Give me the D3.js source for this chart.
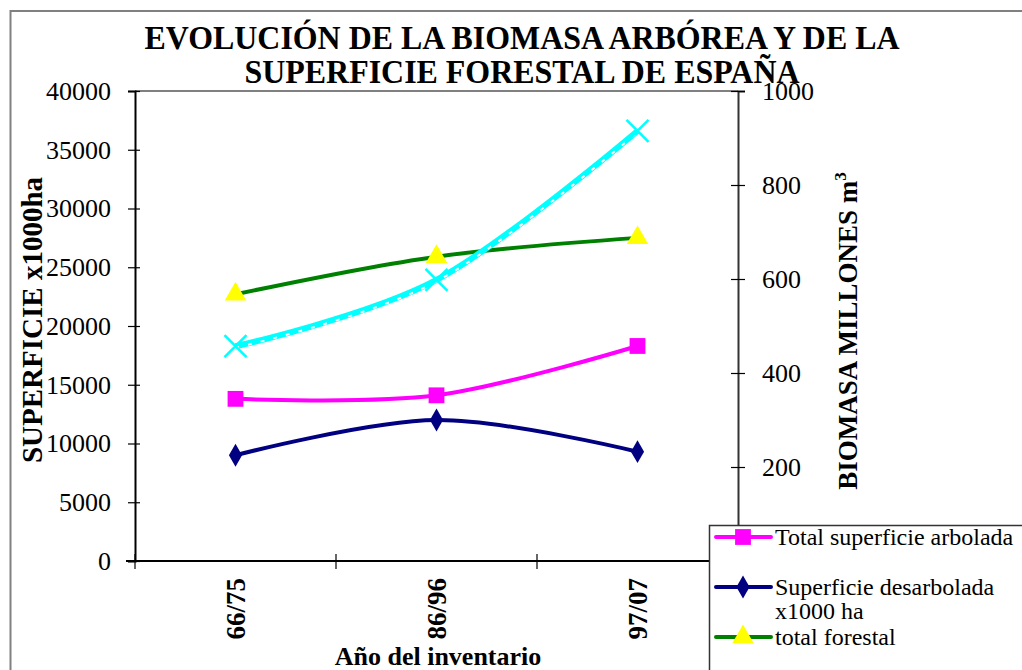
<!DOCTYPE html>
<html>
<head>
<meta charset="utf-8">
<script src="https://cdn.jsdelivr.net/npm/d3@7/dist/d3.min.js"></script>
<style>
  html, body { margin: 0; padding: 0; background: #fff; }
  svg { display: block; }
  svg text { font-family: "Liberation Serif", "Times New Roman", serif; }
</style>
</head>
<body>
<svg id="chart" width="1022" height="670"></svg>
<script>
// Inventory periods
const categories = ["66/75", "86/96", "97/07"];

// Surface series (thousand ha, left axis)
const arbolada = [13800, 14100, 18300];
const desarbolada = [9000, 12000, 9300];
const forestal = [22700, 25900, 27500];

// Tree biomass (million m³, right axis)
const biomasa = [457, 598, 915];

// Axis ticks
const leftTicks = [0, 5000, 10000, 15000, 20000, 25000, 30000, 35000, 40000];
const rightTicks = [200, 400, 600, 800, 1000];

const titleLines = ["EVOLUCIÓN DE LA BIOMASA ARBÓREA Y DE LA", "SUPERFICIE FORESTAL DE ESPAÑA"];
const titleWidths = [755, 555];

const FONT = "Liberation Serif";
const svg = d3.select("#chart");
const plot = { left: 135, right: 738, top: 91, bottom: 561 };

const x = d3.scaleBand().domain(categories).range([plot.left, plot.right]).padding(0);
const yL = d3.scaleLinear().domain([0, 40000]).range([plot.bottom, plot.top]);
const yR = d3.scaleLinear().domain([0, 1000]).range([plot.bottom, plot.top]);
const cx = c => x(c) + x.bandwidth() / 2;

// Outer chart frame
svg.append("path")
  .attr("d", "M10.5,680 V11 H1030")
  .attr("fill", "none").attr("stroke", "#808080").attr("stroke-width", 2);

// Plot area top border
svg.append("line")
  .attr("x1", plot.left).attr("x2", plot.right)
  .attr("y1", plot.top).attr("y2", plot.top)
  .attr("stroke", "#808080").attr("stroke-width", 2);

// Title
svg.append("g").selectAll("text").data(titleLines).join("text")
  .attr("x", 522).attr("y", (d, i) => 49 + i * 34)
  .attr("text-anchor", "middle")
  .attr("font-family", FONT)
  .attr("font-weight", "bold").attr("font-size", 33)
  .attr("textLength", (d, i) => titleWidths[i])
  .attr("lengthAdjust", "spacingAndGlyphs")
  .text(d => d);

// Left axis
const gL = svg.append("g").attr("transform", `translate(${plot.left},0)`)
  .call(d3.axisLeft(yL).tickValues(leftTicks).tickSize(7).tickPadding(17).tickFormat(d3.format("d")));
gL.select(".domain").attr("stroke", "#000").attr("stroke-width", 2);
gL.selectAll(".tick line").attr("x1", 5).attr("stroke", "#000").attr("stroke-width", 1.2);
gL.selectAll(".tick text").attr("font-size", 26).attr("font-family", FONT).attr("fill", "#000");

// Right axis
const gR = svg.append("g").attr("transform", `translate(${plot.right},0)`)
  .call(d3.axisRight(yR).tickValues(rightTicks).tickSize(7).tickPadding(17).tickFormat(d3.format("d")));
gR.select(".domain").attr("stroke", "#333").attr("stroke-width", 2);
gR.selectAll(".tick line").attr("x1", -7).attr("stroke", "#000").attr("stroke-width", 1.2);
gR.selectAll(".tick text").attr("font-size", 26).attr("font-family", FONT).attr("fill", "#000");

// Bottom axis: labels at category centres, ticks at category boundaries
const gB = svg.append("g").attr("transform", `translate(0,${plot.bottom})`)
  .call(d3.axisBottom(x).tickSize(0).tickPadding(0));
gB.select(".domain").remove();
gB.selectAll(".tick text")
  .attr("transform", "rotate(-90)")
  .attr("text-anchor", "end")
  .attr("x", -17).attr("y", 0).attr("dy", "0.35em")
  .attr("font-size", 27).attr("font-weight", "bold").attr("font-family", FONT).attr("fill", "#000");
gB.append("line").attr("x1", plot.left - 9).attr("x2", plot.right).attr("y1", 0).attr("y2", 0)
  .attr("stroke", "#000").attr("stroke-width", 2);
const bounds = categories.map(c => x(c)).concat([plot.right]);
gB.selectAll("line.bound").data(bounds).join("line").attr("class", "bound")
  .attr("x1", d => d).attr("x2", d => d).attr("y1", -7).attr("y2", 8)
  .attr("stroke", "#000").attr("stroke-width", 1.2);

// Axis titles
svg.append("text")
  .attr("transform", "translate(42,320) rotate(-90)")
  .attr("text-anchor", "middle").attr("font-family", FONT)
  .attr("font-weight", "bold").attr("font-size", 29)
  .text("SUPERFICIE x1000ha");
const rt = svg.append("text")
  .attr("transform", "translate(857,331) rotate(-90)")
  .attr("text-anchor", "middle").attr("font-family", FONT)
  .attr("font-weight", "bold").attr("font-size", 27);
rt.append("tspan").text("BIOMASA MILLONES m");
rt.append("tspan").attr("font-size", 17).attr("dy", -11).text("3");
svg.append("text")
  .attr("x", 438).attr("y", 665)
  .attr("text-anchor", "middle").attr("font-family", FONT)
  .attr("font-weight", "bold").attr("font-size", 26)
  .text("Año del inventario");

// Series lines
const curve = d3.curveCardinal.tension(0);
const lineL = d3.line().x((d, i) => cx(categories[i])).y(d => yL(d)).curve(curve);
const lineR = d3.line().x((d, i) => cx(categories[i])).y(d => yR(d)).curve(curve);

const series = [
  { values: forestal, color: "#008000", marker: "triangle", fill: "#FFFF00" },
  { values: arbolada, color: "#FF00FF", marker: "square", fill: "#FF00FF" },
  { values: desarbolada, color: "#000080", marker: "diamond", fill: "#000080" }
];

series.forEach(s => {
  svg.append("path").attr("d", lineL(s.values))
    .attr("fill", "none").attr("stroke", s.color).attr("stroke-width", 4);
});

// Biomass: thick cyan line with a light dashed trace
svg.append("path").attr("d", lineR(biomasa))
  .attr("fill", "none").attr("stroke", "#00FFFF").attr("stroke-width", 6);
svg.append("path").attr("d", lineR(biomasa))
  .attr("transform", "translate(0,1.5)")
  .attr("fill", "none").attr("stroke", "#fff").attr("stroke-width", 2)
  .attr("stroke-dasharray", "4,9");

// Markers
const sym = {
  square: d3.symbol().type(d3.symbolSquare).size(250),
  diamond: d3.symbol().type(d3.symbolDiamond).size(150),
  triangle: d3.symbol().type(d3.symbolTriangle).size(200)
};
series.forEach(s => {
  svg.append("g").selectAll("path").data(s.values).join("path")
    .attr("transform", (d, i) => `translate(${cx(categories[i])},${yL(d)})`)
    .attr("d", sym[s.marker]())
    .attr("fill", s.fill);
});
svg.append("g").selectAll("path").data(biomasa).join("path")
  .attr("transform", (d, i) => `translate(${cx(categories[i])},${yR(d)})`)
  .attr("d", "M-11,-11L11,11M-11,11L11,-11")
  .attr("stroke", "#00FFFF").attr("stroke-width", 2.5).attr("fill", "none");

// Legend
const legend = svg.append("g");
legend.append("rect")
  .attr("x", 709.5).attr("y", 525.5).attr("width", 400).attr("height", 200)
  .attr("fill", "#fff").attr("stroke", "#333").attr("stroke-width", 1.5);
const legendItems = [
  { color: "#FF00FF", marker: "square", fill: "#FF00FF", y: 537, lines: ["Total superficie arbolada"] },
  { color: "#000080", marker: "diamond", fill: "#000080", y: 587, lines: ["Superficie desarbolada", "x1000 ha"] },
  { color: "#008000", marker: "triangle", fill: "#FFFF00", y: 637, lines: ["total forestal"] }
];
legendItems.forEach(it => {
  legend.append("line").attr("x1", 716).attr("x2", 771).attr("y1", it.y).attr("y2", it.y)
    .attr("stroke", it.color).attr("stroke-width", 4).attr("stroke-linecap", "round");
  legend.append("path").attr("transform", `translate(743,${it.y})`)
    .attr("d", sym[it.marker]()).attr("fill", it.fill);
  it.lines.forEach((t, j) => {
    legend.append("text").attr("x", 775).attr("y", it.y + 8 + j * 24)
      .attr("font-family", FONT).attr("font-size", 24).text(t);
  });
});
</script>
</body>
</html>
